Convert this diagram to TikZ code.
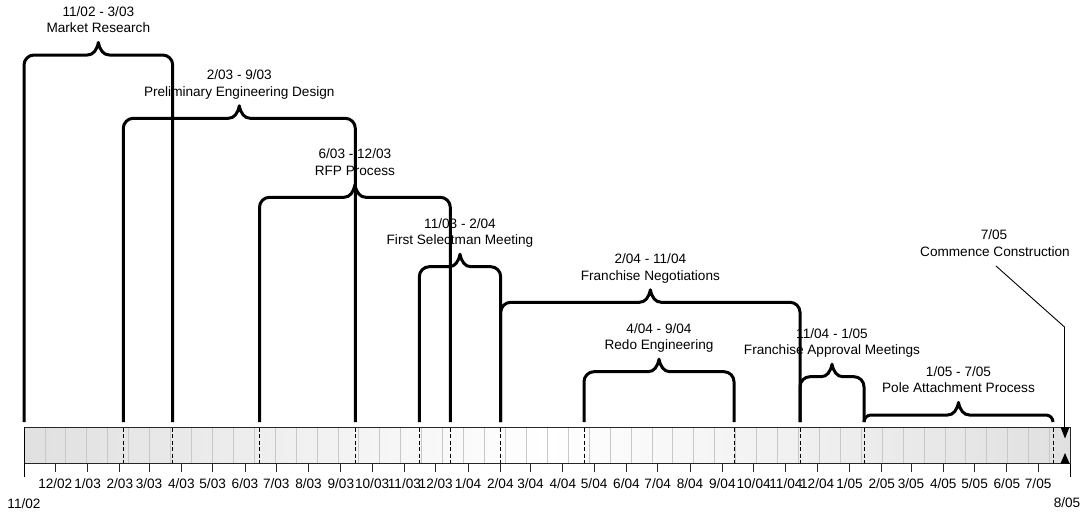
\documentclass[tikz,border=0pt]{standalone}
\usepackage{fontspec}
\setmainfont{Liberation Sans}
\definecolor{gridgray}{RGB}{200,200,200}
\definecolor{barshadecol}{RGB}{224,224,224}
\pgfdeclarehorizontalshading{barshade}{100bp}{color(0bp)=(barshadecol); color(25bp)=(barshadecol); color(50bp)=(white); color(75bp)=(barshadecol); color(100bp)=(barshadecol)}
\newcommand\kk{1.0423}
% task: #1 name, #2 x1, #3 x2, #4 h, #5 dates, #6 title
\newcommand\taskbrace[6]{%
  \pgfmathsetmacro\xc{(#2+#3)/2}%
  \pgfmathsetmacro\rr{min(10,422-#4)}%
  \pgfmathsetmacro\cc{0.45*\rr}%
  \draw[bracestyle] (#2,422) -- (#2,#4+\rr) .. controls (#2,#4+\cc) and (#2+\cc,#4) .. (#2+\rr,#4)
     -- (\xc-11,#4) .. controls (\xc-5,#4) and (\xc-1.5,#4-5) .. (\xc,#4-12.5)
     .. controls (\xc+1.5,#4-5) and (\xc+5,#4) .. (\xc+11,#4)
     -- (#3-\rr,#4) .. controls (#3-\cc,#4) and (#3,#4+\cc) .. (#3,#4+\rr) -- (#3,422);
  \node[tasklabel] (#1date) at (\xc,#4-38.6) {#5};
  \node[tasklabel] (#1name) at (\xc,#4-22.1) {#6};
}
\begin{document}
\begin{tikzpicture}[x=1pt,y=-1pt,
  bracestyle/.style={line width=3pt, line join=round},
  tasklabel/.style={font=\fontsize{13.6}{16}\selectfont, anchor=base, inner sep=0pt},
  monthlabel/.style={font=\fontsize{13.6}{16}\selectfont, anchor=base, inner sep=0pt},
  gridline/.style={draw=gridgray, line width=0.8pt},
  boundary/.style={dash pattern=on 4pt off 2.5pt, line width=1pt},
  tickline/.style={line width=0.9pt, draw=black!85},
  ]
\useasboundingbox (0,0) rectangle (1087,512);

% bar
\shade[shading=barshade] (24,427) rectangle (1070.5,463.5);
\foreach \i in {1,...,49} \draw[gridline] ({24+\i*20.93},427) -- ({24+\i*20.93},463.5);
\draw[line width=0.8pt, draw=black!85] (24,427) rectangle (1070.5,463.5);
\draw[line width=1pt] (24,427) -- (24,477);
\draw[line width=1pt] (1070.5,463.5) -- (1070.5,477);

% task boundaries inside bar
\foreach \x in {123.3,172.7,259.5,355.3,419.3,450.3,500.7,584,734,800,864,1053}
  \draw[boundary] (\x,427.5) -- (\x,463);

% milestone triangles
\fill (1060.5,427) -- (1069.5,427) -- (1065,438.5) -- cycle;
\fill (1060.5,463.5) -- (1069.5,463.5) -- (1065,453) -- cycle;

% month ticks and labels
\foreach \d/\m in {30/{12/02},61/{1/03},92/{2/03},120/{3/03},151/{4/03},181/{5/03},212/{6/03},242/{7/03},273/{8/03},304/{9/03},334/{10/03},365/{11/03},395/{12/03},426/{1/04},457/{2/04},486/{3/04},517/{4/04},547/{5/04},578/{6/04},608/{7/04},639/{8/04},670/{9/04},700/{10/04},731/{11/04},761/{12/04},792/{1/05},823/{2/05},851/{3/05},882/{4/05},912/{5/05},943/{6/05},973/{7/05}}{
  \draw[tickline] ({24+\d*\kk},463.5) -- ({24+\d*\kk},471.5);
  \node[monthlabel] (m\d) at ({24+\d*\kk},488) {\m};
}
\node[monthlabel] (start) at (24,508) {11/02};
\node[monthlabel] (end) at (1067,507.5) {8/05};

% tasks
\taskbrace{mr}{24}{172.7}{55}{11/02 - 3/03}{Market Research}
\taskbrace{ped}{123.3}{355.3}{118.3}{2/03 - 9/03}{Preliminary Engineering Design}
\taskbrace{rfp}{259.5}{450.3}{197.3}{6/03 - 12/03}{RFP Process}
\taskbrace{fsm}{419.3}{500.7}{266.7}{11/03 - 2/04}{First Selectman Meeting}
\taskbrace{fn}{500.7}{800}{302.3}{2/04 - 11/04}{Franchise Negotiations}
\taskbrace{re}{584}{734}{371.7}{4/04 - 9/04}{Redo Engineering}
\taskbrace{fam}{800}{864}{376.7}{11/04 - 1/05}{Franchise Approval Meetings}
\taskbrace{pap}{864}{1053}{415}{1/05 - 7/05}{Pole Attachment Process}

% milestone
\node[tasklabel] (msdate) at (994,239.9) {7/05};
\node[tasklabel] (msname) at (995,256.6) {Commence Construction};
\coordinate (msstart) at (996,266);
\coordinate (msbend) at (1064.5,327);
\coordinate (msend) at (1064.5,427);
\draw[line width=0.9pt] (msstart) -- (msbend) -- (msend);
\end{tikzpicture}
\end{document}
